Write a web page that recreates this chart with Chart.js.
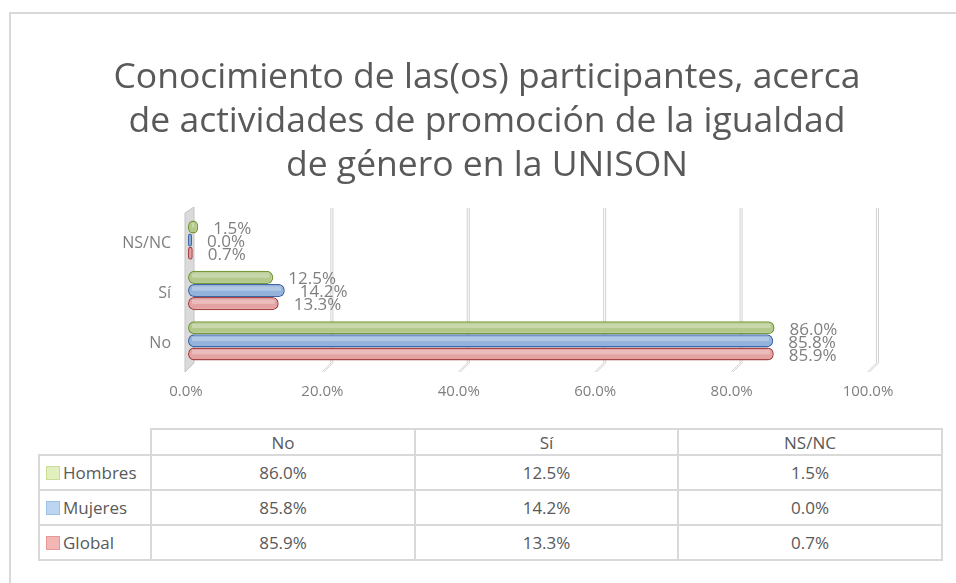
<!DOCTYPE html>
<html>
<head>
<meta charset="utf-8">
<script src="https://cdn.jsdelivr.net/npm/chart.js@4.4.0/dist/chart.umd.min.js"></script>
<style>
  body { margin: 0; background: #fff; width: 956px; height: 583px; overflow: hidden; position: relative; font-family: "Open Sans", sans-serif; }
  #frame { position: absolute; left: 9px; top: 12px; width: 960px; height: 600px; border: 2px solid #d9d9d9; box-sizing: border-box; }
  #wrap { position: absolute; left: 0; top: 0; width: 956px; height: 420px; }
  #datatable { position: absolute; left: 38px; top: 428px; border-collapse: collapse; table-layout: fixed; color: #595959; font-size: 17px; }
  #datatable td { border: 2px solid #d9d9d9; text-align: center; padding: 0; }
  #datatable td.key { text-align: left; padding-left: 6px; white-space: nowrap; }
  .sq { display: inline-block; width: 12px; height: 12px; margin-right: 3px; vertical-align: -1px; border: 1px solid; }
</style>
</head>
<body>
<div id="frame"></div>
<div id="wrap"><canvas id="chart" width="956" height="420"></canvas></div>
<table id="datatable"></table>
<script>
let categories = ["No", "Sí", "NS/NC"];
let seriesNames = ["Hombres", "Mujeres", "Global"];
let hombres = [86.0, 12.5, 1.5];
let mujeres = [85.8, 14.2, 0.0];
let global = [85.9, 13.3, 0.7];
let xTicks = [0, 20, 40, 60, 80, 100];
let titleLines = [
  "Conocimiento de las(os) participantes, acerca",
  "de actividades de promoción de la igualdad",
  "de género en la UNISON",
];

let barFill = ["#b3c98c", "#93b3dc", "#e3a3a3"];
let barEdge = ["#77993a", "#3d67a6", "#a94444"];
let keyFill = ["#e2f0bf", "#bcd6f2", "#f4b6b5"];
let keyEdge = ["#c9de94", "#9cc0e6", "#e69a98"];
let seriesValues = [hombres, mujeres, global];

// title, 3D-ish grid lines, the left wall and the value labels
const gridPlugin = {
  id: "grid3d",
  beforeDraw(chart) {
    const ctx = chart.ctx;
    ctx.save();
    ctx.fillStyle = "#595959";
    ctx.font = "35.5px 'Open Sans'";
    ctx.textAlign = "center";
    ctx.textBaseline = "middle";
    titleLines.forEach((line, i) => {
      ctx.fillText(line, 487, 78 + i * 44);
    });
    ctx.restore();
  },
  beforeDatasetsDraw(chart) {
    const ctx = chart.ctx;
    const x = chart.scales.x;
    const top = chart.chartArea.top;
    const bottom = chart.chartArea.bottom;
    ctx.save();
    for (const v of xTicks) {
      const p = x.getPixelForValue(v);
      if (v === 0) {
        ctx.fillStyle = "#dadada";
        ctx.strokeStyle = "#c4c4c4";
        ctx.lineWidth = 1;
        ctx.beginPath();
        ctx.moveTo(p - 3, top - 2);
        ctx.lineTo(p + 6, top - 8);
        ctx.lineTo(p + 6, bottom - 3);
        ctx.lineTo(p - 3, bottom + 6);
        ctx.closePath();
        ctx.fill();
        ctx.stroke();
        continue;
      }
      for (const dx of [-1, 1]) {
        ctx.strokeStyle = "#d2d2d2";
        ctx.lineWidth = 1;
        ctx.beginPath();
        ctx.moveTo(p + 7.5 + dx, top - 7);
        ctx.lineTo(p + 7.5 + dx, bottom - 3);
        ctx.lineTo(p - 1.5 + dx, bottom + 6);
        ctx.stroke();
      }
    }
    ctx.restore();
  },
  afterDatasetsDraw(chart) {
    const ctx = chart.ctx;
    ctx.save();
    chart.data.datasets.forEach((ds, i) => {
      const meta = chart.getDatasetMeta(i);
      meta.data.forEach((bar, j) => {
        // soft highlight along the top of each bar
        const h = bar.height;
        const left = Math.min(bar.x, bar.base);
        const w = Math.abs(bar.x - bar.base);
        if (w > 8) {
          ctx.fillStyle = "rgba(255,255,255,0.28)";
          ctx.fillRect(left + 4, bar.y - h / 2 + 2.5, w - 8, h / 3);
        }
        ctx.fillStyle = "#7f7f7f";
        ctx.font = "17px 'Open Sans'";
        ctx.textAlign = "left";
        ctx.textBaseline = "middle";
        ctx.fillText(ds.data[j].toFixed(1) + "%", bar.x + 15, bar.y + 2);
      });
    });
    ctx.restore();
  },
};

new Chart("chart", {
  type: "bar",
  data: {
    labels: categories,
    datasets: seriesNames.map((name, i) => ({
      label: name,
      data: seriesValues[i],
      backgroundColor: barFill[i],
      borderColor: barEdge[i],
      borderWidth: 1.5,
      borderRadius: 6,
      borderSkipped: false,
      minBarLength: 4,
      categoryPercentage: 0.78,
      barPercentage: 1.0,
    })),
  },
  options: {
    indexAxis: "y",
    responsive: false,
    animation: false,
    layout: { padding: { left: 0, right: 86, top: 215, bottom: 0 } },
    plugins: {
      legend: { display: false },
      tooltip: { enabled: false },
      title: { display: false },
    },
    scales: {
      x: {
        min: 0,
        max: 100,
        afterBuildTicks: (scale) => {
          scale.ticks = xTicks.map((v) => ({ value: v }));
        },
        afterFit: (scale) => {
          scale.height = 54;
        },
        grid: { display: false, drawTicks: false },
        border: { display: false },
        ticks: {
          padding: 17,
          labelOffset: -2,
          color: "#7f7f7f",
          font: { family: "Open Sans", size: 15 },
          callback: (v) => Number(v).toFixed(1) + "%",
        },
      },
      y: {
        reverse: true,
        afterFit: (scale) => {
          scale.width = 188;
        },
        grid: { display: false, drawTicks: false },
        border: { display: false },
        ticks: {
          padding: 17,
          labelOffset: 3,
          color: "#7f7f7f",
          font: { family: "Open Sans", size: 16 },
        },
      },
    },
  },
  plugins: [gridPlugin],
});

// data table under the chart
const table = document.getElementById("datatable");
const colWidths = [112, 264, 263, 264];
const cg = document.createElement("colgroup");
colWidths.forEach((w) => {
  const c = document.createElement("col");
  c.style.width = w + "px";
  cg.appendChild(c);
});
table.appendChild(cg);
table.style.width = colWidths.reduce((a, b) => a + b, 0) + "px";

const head = document.createElement("tr");
head.style.height = "26px";
const corner = document.createElement("td");
corner.style.borderTop = "none";
corner.style.borderLeft = "none";
head.appendChild(corner);
categories.forEach((c) => {
  const td = document.createElement("td");
  td.textContent = c;
  head.appendChild(td);
});
table.appendChild(head);

seriesNames.forEach((name, i) => {
  const tr = document.createElement("tr");
  tr.style.height = "35px";
  const key = document.createElement("td");
  key.className = "key";
  key.innerHTML =
    '<span class="sq" style="background:' + keyFill[i] + ";border-color:" + keyEdge[i] + '"></span>' + name;
  tr.appendChild(key);
  seriesValues[i].forEach((v) => {
    const td = document.createElement("td");
    td.textContent = v.toFixed(1) + "%";
    tr.appendChild(td);
  });
  table.appendChild(tr);
});
</script>
</body>
</html>
